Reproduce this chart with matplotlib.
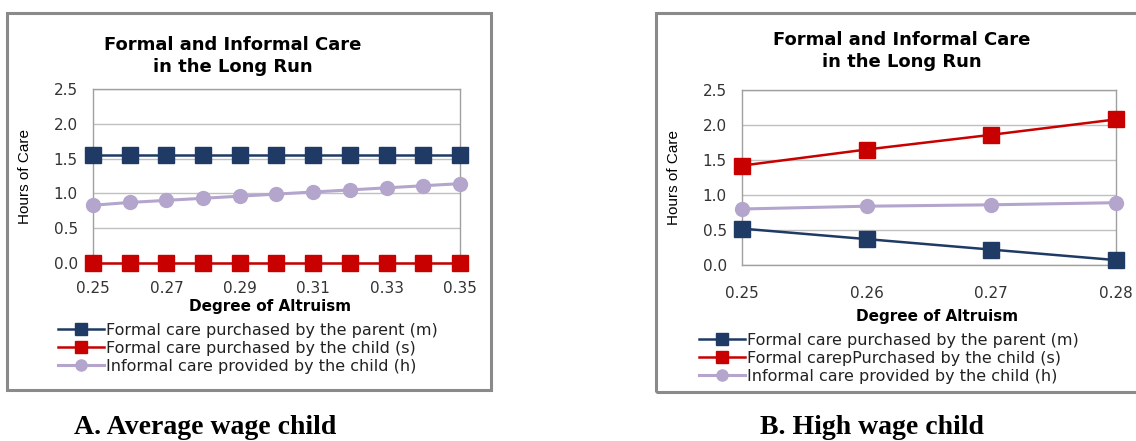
import matplotlib.pyplot as plt
from matplotlib.patches import Rectangle
from matplotlib.ticker import FormatStrFormatter

# Panel A: average wage child
alpha_a = [0.25, 0.26, 0.27, 0.28, 0.29, 0.30, 0.31, 0.32, 0.33, 0.34, 0.35]
m_a = [1.55, 1.55, 1.55, 1.55, 1.55, 1.55, 1.55, 1.55, 1.55, 1.55, 1.55]
s_a = [0.0, 0.0, 0.0, 0.0, 0.0, 0.0, 0.0, 0.0, 0.0, 0.0, 0.0]
h_a = [0.83, 0.87, 0.90, 0.93, 0.96, 0.99, 1.02, 1.05, 1.08, 1.11, 1.14]
xticks_a = [0.25, 0.27, 0.29, 0.31, 0.33, 0.35]

# Panel B: high wage child
alpha_b = [0.25, 0.26, 0.27, 0.28]
m_b = [0.52, 0.37, 0.22, 0.07]
s_b = [1.42, 1.65, 1.86, 2.08]
h_b = [0.80, 0.84, 0.86, 0.89]
xticks_b = [0.25, 0.26, 0.27, 0.28]

labels_a = ['Formal care purchased by the parent (m)',
            'Formal care purchased by the child (s)',
            'Informal care provided by the child (h)']
labels_b = ['Formal care purchased by the parent (m)',
            'Formal carepPurchased by the child (s)',
            'Informal care provided by the child (h)']

NAVY = '#1f3a64'
RED = '#c80000'
LAV = '#b4a5cc'
GRID = '#c0c0c0'

W, H = 1136, 441
fig = plt.figure(figsize=(W / 100, H / 100), dpi=100)


def fx(px):
    return px / W


def fy(py):
    return 1 - py / H


# chart frames (Excel-like boxes)
for x0, y0, x1, y1 in [(7, 13, 491, 390), (656, 13, 1142, 392)]:
    fig.patches.append(Rectangle((fx(x0), fy(y1)), fx(x1 - x0), (y1 - y0) / H,
                                 transform=fig.transFigure, fill=False,
                                 edgecolor='#8a8a8a', linewidth=2.2))


def panel(rect, xs, m, s, h, xticks, labels, title_xy, ylab_xy, xlab_xy,
          xtick_pad, leg_xy):
    ax = fig.add_axes(rect)
    ax.set_ylim(0, 2.5)
    ax.set_xlim(xs[0], xs[-1])
    ax.set_yticks([0, 0.5, 1.0, 1.5, 2.0, 2.5])
    ax.set_xticks(xticks)
    ax.yaxis.set_major_formatter(FormatStrFormatter('%.1f'))
    ax.xaxis.set_major_formatter(FormatStrFormatter('%.2f'))
    ax.grid(axis='y', color=GRID, linewidth=1)
    ax.set_axisbelow(True)
    for sp in ax.spines.values():
        sp.set_color('#a0a0a0')
        sp.set_linewidth(1)
    ax.tick_params(length=0, labelsize=11, colors='#333333')
    ax.tick_params(axis='y', pad=11)
    ax.tick_params(axis='x', pad=xtick_pad)

    ax.plot(xs, m, color=NAVY, lw=1.8, marker='s', ms=11, clip_on=False,
            zorder=4, label=labels[0])
    ax.plot(xs, s, color=RED, lw=1.8, marker='s', ms=11, clip_on=False,
            zorder=4, label=labels[1])
    ax.plot(xs, h, color=LAV, lw=2.2, marker='o', ms=10, clip_on=False,
            zorder=3, label=labels[2])

    fig.text(fx(title_xy[0]), fy(title_xy[1]),
             'Formal and Informal Care\nin the Long Run',
             ha='center', va='center', fontsize=13, fontweight='bold',
             linespacing=1.35)
    fig.text(fx(ylab_xy[0]), fy(ylab_xy[1]), 'Hours of Care', rotation=90,
             ha='center', va='center', fontsize=11,
             family=['Liberation Sans Narrow', 'DejaVu Sans Condensed',
                     'Liberation Sans'])
    fig.text(fx(xlab_xy[0]), fy(xlab_xy[1]), 'Degree of Altruism', ha='center',
             va='center', fontsize=11, fontweight='bold')

    leg = ax.legend(loc='upper left', bbox_to_anchor=(fx(leg_xy[0]), fy(leg_xy[1])),
                    bbox_transform=fig.transFigure, frameon=False,
                    fontsize=11.5, handlelength=2.9, handletextpad=0.1,
                    labelspacing=0.18, borderaxespad=0, borderpad=0,
                    markerscale=0.8)
    for t in leg.get_texts():
        t.set_color('#222222')
    return ax


panel([fx(93), fy(263), fx(460 - 93), (263 - 89) / H],
      alpha_a, m_a, s_a, h_a, xticks_a, labels_a,
      (233, 56), (25, 177), (270, 307), 13, (58, 323))
panel([fx(742), fy(265), fx(1116 - 742), (265 - 90) / H],
      alpha_b, m_b, s_b, h_b, xticks_b, labels_b,
      (902, 51), (674, 178), (937, 317), 15, (699, 333))

fig.text(fx(205), fy(428), 'A. Average wage child', ha='center', va='center',
         fontsize=20, fontweight='bold', family='Liberation Serif')
fig.text(fx(872), fy(428), 'B. High wage child', ha='center', va='center',
         fontsize=20, fontweight='bold', family='Liberation Serif')

fig.savefig('out.png', dpi=100)
